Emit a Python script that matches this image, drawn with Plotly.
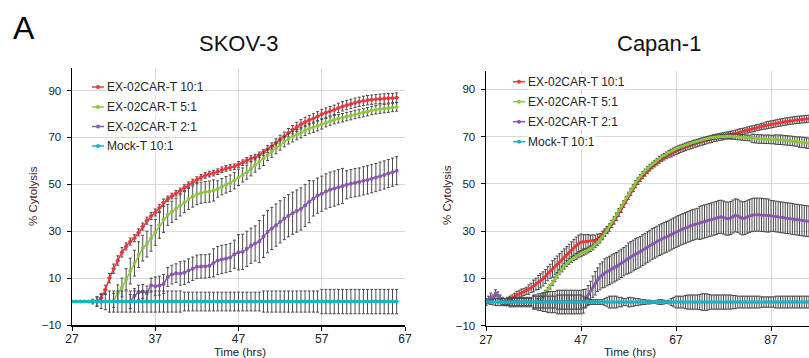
import numpy as np
import plotly.graph_objects as go

FONT = "Liberation Sans, Arial, sans-serif"
STEP = 0.5  # hours between readings

series_names = ["EX-02CAR-T 10:1", "EX-02CAR-T 5:1", "EX-02CAR-T 2:1", "Mock-T 10:1"]
series_colors = ["#e8383d", "#8cc63f", "#8a56b4", "#1ab3c9"]
y_ticks = [-10, 10, 30, 50, 70, 90]

# ---------------- SKOV-3 ----------------
skov_x_ticks = [27, 37, 47, 57, 67]

skov_red_start = 30.0
skov_red = [0, 1.5, 5, 10, 14, 17.5, 21, 23.5, 25.6, 27,
            29.5, 32, 34.5, 36.5, 38, 40, 42.2, 43.8, 45, 46.2,
            47.2, 48.6, 49.8, 51, 52, 53, 53.8, 54.4, 54.8, 55.4,
            56.2, 56.8, 57.2, 57.5, 58.5, 59.2, 60.2, 61, 61.6, 62.6,
            63.6, 65, 66.2, 67.6, 69.2, 70.5, 72, 73.3, 74.5, 75.6,
            76.6, 77.4, 78.1, 79, 80, 80.6, 81.2, 81.8, 82.6, 83.3,
            83.8, 84.3, 84.8, 85.2, 85.6, 85.9, 86.1, 86.3, 86.5, 86.6,
            86.7, 86.8, 87]
skov_red_err = [2, 2, 2, 2, 2, 2, 2, 1.5, 1.5, 1.5,
                1.5, 1.5, 1.5, 1.5, 1.5, 1.5, 1.5, 1.2, 1.2, 1.2,
                1.2, 1.2, 1.2, 1.2, 1.2, 1.2, 1.2, 1.2, 1.2, 1.2,
                1.2, 1.2, 1.2, 1.2, 1.2, 1.2, 1.2, 1.2, 1.2, 1.2,
                1.2, 1.5, 1.5, 1.8, 1.8, 1.8, 1.8, 1.8, 2, 2,
                2, 2, 2, 2, 2, 2, 2, 2, 2, 2,
                2, 2, 2, 2, 2, 2, 2, 2, 2, 2,
                2, 2, 2]

skov_green_start = 32.0
skov_green = [0.5, 3.6, 6, 9.5, 13, 16.4, 20, 22.8, 24.5, 27,
              29.5, 32.5, 35, 37, 38.3, 39.6, 41, 42.4, 43.8, 44.8,
              45.8, 46.4, 46.7, 46.9, 47.4, 48, 49, 49.8, 50.5, 51.6,
              53, 54, 55.2, 56.6, 58.2, 59.6, 61, 62.6, 64, 65.5,
              66.8, 68.2, 69.4, 70.3, 71.2, 72, 73, 73.8, 74.4, 75,
              75.6, 76.3, 77, 77.6, 78, 78.4, 78.9, 79.3, 79.8, 80.2,
              80.6, 81, 81.5, 81.8, 82.1, 82.3, 82.5, 82.8, 83]
skov_green_err = [3, 3.5, 4, 4.5, 5.5, 5.5, 5.5, 5.5, 5.5, 5.5,
                  5.5, 5.5, 5.5, 4.5, 4.5, 4.5, 4.5, 4.5, 4.5, 4.5,
                  4.5, 4.5, 4.5, 4.5, 4.5, 3.5, 3.5, 3.5, 3.5, 3.5,
                  3.5, 3, 3, 3, 3, 3, 3, 2.5, 2.5, 2.5,
                  2.2, 2.2, 2.2, 2.2, 2.2, 2.2, 2.2, 2.2, 2.2, 2.2,
                  2, 1.8, 1.8, 1.8, 1.8, 1.8, 1.8, 1.8, 1.8, 1.8,
                  1.8, 1.8, 1.8, 1.8, 1.8, 1.8, 1.8, 1.8, 1.8]

skov_purple_start = 34.0
skov_purple = [0, 2.5, 4, 4.3, 3.6, 7, 6.5, 6.8, 7.5, 10.5,
               11.5, 12.1, 12, 12.3, 13.2, 14, 14.8, 15, 15, 15.3,
               16.5, 17.5, 18, 18.3, 18.8, 20.2, 21, 21.2, 22.5, 23.8,
               24.8, 25.6, 27.8, 29.8, 31.2, 32.6, 34, 35.4, 36.6, 37.7,
               38.6, 39.5, 41, 42.6, 44, 45.2, 46, 47, 47.7, 48.2,
               48.8, 49.3, 49.8, 50.3, 50.7, 51, 51.5, 51.9, 52.4, 52.9,
               53.5, 54, 54.6, 55.2, 55.8]
skov_purple_err = [3, 3, 3, 3, 3, 3, 4, 4, 4, 4,
                   4, 4, 5, 5, 5, 5, 5, 5, 5, 5,
                   6, 6, 6, 6, 6, 6, 7.5, 7.5, 7.5, 7.5,
                   7.5, 9, 9, 9, 9, 9, 9, 9, 9, 9,
                   9, 9, 9, 9, 7.5, 7.5, 7.5, 7.5, 7.5, 7.5,
                   7.5, 7.5, 6, 6, 6, 6, 6, 6, 6, 6,
                   6, 6, 6, 6, 6]

skov_mock_start = 27.0
skov_mock = [0.0] * 79
skov_mock_err = [0, 0, 0, 0, 0, 1, 2, 3, 3.5, 4.5,
                 4.5, 4.5, 4.5, 4.5, 4.5, 4.5, 4.5, 4.5, 4.5, 4.5,
                 4.5, 4.5, 4.5, 4.5, 4.5, 4.5, 4.5, 4, 4, 4,
                 4, 4, 4, 4, 4, 4, 4, 4, 4, 4,
                 4, 4, 4, 4, 4, 4, 4.5, 4.5, 4.5, 4.5,
                 4.5, 4.5, 4.5, 4.5, 4.5, 4.5, 4.5, 4.5, 4.5, 4.5,
                 5.2, 5.2, 5.2, 5.2, 5.2, 5.2, 5.2, 5.2, 5.2, 5.2,
                 5.2, 5.2, 5.2, 5.2, 5.2, 5.2, 5.2, 5.2, 5.2]

# ---------------- Capan-1 ----------------
capan_x_ticks = [27, 47, 67, 87]

capan_red_start = 31.0
capan_red = [0, 0.5, 1, 1.5, 2.2, 3, 3.5, 4, 4.3, 4.8,
             5.3, 6, 6.8, 7.6, 8.3, 9, 9.8, 10.8, 12, 13,
             14, 15, 16, 17, 18, 19, 20, 21, 22, 23,
             24, 24.8, 25.3, 25.5, 25.5, 25.6, 25.8, 26, 26.3, 26.8,
             27.5, 28.5, 29.5, 30.5, 31.5, 33, 34.5, 36, 37.8, 39.5,
             41.2, 43, 44.7, 46.4, 48, 49.6, 51, 52.2, 53.4, 54.5,
             55.5, 56.5, 57.4, 58.2, 59, 59.8, 60.5, 61.1, 61.7, 62.3,
             62.9, 63.4, 63.9, 64.4, 64.8, 65.2, 65.6, 66, 66.3, 66.6,
             67, 67.3, 67.6, 67.9, 68.2, 68.5, 68.8, 69.1, 69.4, 69.6,
             69.8, 70, 70.2, 70.4, 70.6, 70.8, 71, 71.3, 71.6, 71.9,
             72.2, 72.5, 72.8, 73.1, 73.3, 73.5, 73.8, 74, 74.3, 74.5,
             74.8, 75, 75.2, 75.4, 75.6, 75.8, 76, 76.2, 76.4, 76.5,
             76.7, 76.8, 77, 77.1, 77.2, 77.3, 77.4, 77.5, 77.6]
capan_red_err = [1.5, 1.5, 1.5, 1.5, 1.5, 1.5, 1.5, 1.5, 1.5, 1.5,
                 2, 2, 2.5, 2.5, 3, 3, 3, 3, 3, 3,
                 3.5, 3.5, 3.5, 3.5, 3.5, 3.5, 3.5, 3.5, 3.5, 3.5,
                 3.5, 3.5, 3.5, 3, 3, 3, 2.5, 2.5, 2, 2,
                 1.5, 1.5, 1.5, 1.5, 1.5, 1.5, 1.5, 1.5, 1.5, 1.5,
                 1.2, 1.2, 1.2, 1.2, 1.2, 1.2, 1.2, 1.2, 1.2, 1.2,
                 1, 1, 1, 1, 1, 1, 1, 1, 1, 1,
                 1.5, 1.5, 1.5, 1.5, 1.5, 1.5, 1.5, 1.5, 1.5, 1.5,
                 1.5, 1.5, 1.5, 1.5, 1.5, 1.5, 1.5, 1.5, 1.5, 1.5,
                 1.5, 1.5, 1.5, 1.5, 1.5, 1.5, 1.5, 1.5, 1.5, 1.5,
                 1.3, 1.3, 1.3, 1.3, 1.3, 1.3, 1.3, 1.3, 1.3, 1.3,
                 1.5, 1.5, 1.5, 1.5, 1.5, 1.5, 1.5, 1.5, 1.5, 1.5,
                 1.5, 1.5, 1.5, 1.5, 1.5, 1.5, 1.5, 1.5, 1.5]

capan_green_start = 38.0
capan_green = [0.5, 1.5, 2.8, 4, 5.3, 6.5, 8, 9.6, 11.2, 12.8,
               14, 15.2, 16.3, 17.2, 18, 18.7, 19.3, 19.9, 20.4, 21,
               21.5, 22, 22.6, 23.3, 24.2, 25.2, 26.3, 27.6, 29, 30.5,
               32.3, 33.8, 35.4, 37, 38.8, 40.5, 42.2, 44, 45.7, 47.4,
               49, 50.6, 52, 53.2, 54.4, 55.5, 56.5, 57.5, 58.4, 59.2,
               60, 60.8, 61.5, 62.1, 62.7, 63.3, 63.9, 64.4, 64.9, 65.3,
               65.7, 66.1, 66.5, 66.9, 67.2, 67.5, 67.8, 68.1, 68.4, 68.7,
               69, 69.2, 69.4, 69.6, 69.8, 69.9, 70, 70.1, 70.2, 70.3,
               70.3, 70.2, 70.1, 70, 69.9, 69.8, 69.7, 69.6, 69.5, 69.4,
               69.3, 69.2, 69.1, 69, 69, 68.9, 68.9, 68.9, 68.8, 68.8,
               68.8, 68.7, 68.7, 68.6, 68.5, 68.4, 68.3, 68.2, 68, 67.9,
               67.7, 67.6, 67.5, 67.3, 67.2]
capan_green_err = [1, 1, 1, 1, 1, 1, 1, 1, 1, 1,
                   1.2, 1.2, 1.2, 1.2, 1.2, 1.2, 1.2, 1.2, 1.2, 1.2,
                   1.2, 1.2, 1.2, 1.2, 1.2, 1.2, 1.2, 1.2, 1.2, 1.2,
                   0.8, 0.8, 0.8, 0.8, 0.8, 0.8, 0.8, 0.8, 0.8, 0.8,
                   0.8, 0.8, 0.8, 0.8, 0.8, 0.8, 0.8, 0.8, 0.8, 0.8,
                   0.8, 0.8, 0.8, 0.8, 0.8, 0.8, 0.8, 0.8, 0.8, 0.8,
                   0.8, 0.8, 0.8, 0.8, 0.8, 0.8, 0.8, 0.8, 0.8, 0.8,
                   0.8, 0.8, 0.8, 0.8, 0.8, 0.8, 0.8, 0.8, 0.8, 0.8,
                   1.2, 1.2, 1.2, 1.2, 1.2, 1.2, 1.2, 1.2, 1.2, 1.2,
                   1.8, 1.8, 1.8, 1.8, 1.8, 1.8, 1.8, 1.8, 1.8, 1.8,
                   2, 2, 2, 2, 2, 2, 2, 2, 2, 2,
                   2.2, 2.2, 2.2, 2.2, 2.2]

capan_purple_start = 27.0
capan_purple = [0, 1, 2.3, 1.5, 3.7, 2.8, 1.5, 0.5, 0, 0,
                0, 0, 0, 0, 0, 0, 0, 0, 0, 0,
                0, 0, 0, 0, 0, 0, 0, 0, 0, 0,
                0, 0, 0, 0, 0, 0, 0, 0, 0, 0,
                0, 0.3, 1.5, 3, 4.8, 6.5, 8, 9.5, 10.7, 11.5,
                12.3, 12.9, 13.4, 14, 14.5, 15, 15.7, 16.4, 17.1, 17.8,
                18.5, 19.1, 19.7, 20.3, 20.8, 21.3, 22, 22.6, 23.3, 23.9,
                24.6, 25.1, 25.6, 26.2, 26.7, 27.2, 27.6, 28.1, 28.6, 29.1,
                29.6, 30.1, 30.6, 31, 31.4, 31.8, 32.2, 32.6, 32.9, 33.2,
                33.5, 33.8, 34.1, 34.4, 34.7, 35, 35.3, 35.6, 36, 36.1,
                35.8, 35.4, 35.3, 35.6, 36.2, 36.7, 36.5, 35.8, 35.4, 35.6,
                36.1, 36.5, 36.8, 37, 37, 37, 36.9, 36.8, 36.7, 36.6,
                36.5, 36.4, 36.2, 36.1, 35.9, 35.8, 35.6, 35.5, 35.4, 35.2,
                35, 34.9, 34.7, 34.6, 34.4, 34.3, 34.2]
capan_purple_err = [1.5, 1.5, 1.5, 1.5, 1.5, 1.5, 1.5, 1.5, 1.5, 1.5,
                    1.5, 1.5, 1.5, 1.5, 1.5, 1.5, 1.5, 1.5, 1.5, 1.5,
                    3, 3, 3.5, 3.5, 4, 4, 4.5, 4.5, 4.5, 4.5,
                    5, 5, 5, 5, 5, 5, 5, 5, 5, 5,
                    5, 5, 4, 4, 4, 4.5, 5, 5, 5.5, 5.5,
                    6, 6, 6, 6, 6, 6, 6, 6, 6, 6,
                    6.5, 6.5, 6.5, 6.5, 6.5, 6.5, 6.5, 6.5, 6.5, 6.5,
                    6.5, 6.5, 6.5, 6.5, 6.5, 6.5, 6.5, 6.5, 6.5, 6.5,
                    6.5, 6.5, 6.5, 6.5, 6.5, 6.5, 6.5, 6.5, 6.5, 6.5,
                    7, 7, 7, 7, 7, 7, 7, 7, 7, 7,
                    7, 7, 7, 7, 7, 7, 7, 7, 7, 7,
                    7, 7, 7, 7, 7, 7, 7, 7, 7, 7,
                    6.5, 6.5, 6.5, 6.5, 6.5, 6.5, 6.5, 6.5, 6.5, 6.5,
                    6.5, 6.5, 6.5, 6.5, 6.5, 6.5, 6.5]

capan_mock_start = 27.0
capan_mock = [0.0] * 137
capan_mock_err = [0.5, 0.8, 1, 1.2, 1.5, 1.5, 1.5, 1.5, 1.5, 1.5,
                  2, 2, 2, 2, 2, 2, 2, 2, 2, 2,
                  2.5, 2.5, 2.5, 2.5, 2.5, 2.5, 2.5, 2.5, 2.5, 2.5,
                  3, 3, 3, 3, 3, 3, 3, 3, 3, 3,
                  3, 2.5, 2, 1.5, 1, 1, 1, 1, 1, 1,
                  1.5, 2, 2.5, 2.5, 2.5, 2.5, 2, 2, 1.5, 1.5,
                  2, 2, 1.8, 1.5, 1.5, 1.2, 1, 1, 0.8, 0.8,
                  0.5, 0.5, 0.8, 1, 1, 0.8, 0.6, 0.8, 1.5, 2,
                  2.5, 2.5, 2.5, 2.5, 2.8, 3, 3, 3, 3, 3,
                  3.2, 3.5, 3.5, 3.5, 3.2, 3, 3, 3, 3, 3,
                  3, 3, 3, 3, 2.8, 2.8, 2.5, 2.5, 2.5, 2.5,
                  2.5, 2.5, 2.5, 2.5, 2.5, 2.5, 2.2, 2.2, 2.2, 2.2,
                  2.2, 2.2, 2.5, 2.5, 2.5, 2.5, 2.5, 2.5, 2.5, 2.5,
                  2.5, 2.5, 2.5, 2.5, 2.5, 2.5, 2.5]

W, H = 809, 358


def px(x):
    return x / W


def py(y):
    return 1 - y / H


fig = go.Figure()


def add_series(start, vals, errs, color, xa, ya, lw, ms, symbol):
    t = np.round(start + STEP * np.arange(len(vals)), 3)
    fig.add_trace(go.Scatter(
        x=t, y=vals, mode="lines+markers",
        line=dict(color=color, width=lw),
        marker=dict(color=color, size=ms, symbol=symbol, line=dict(width=0)),
        error_y=dict(type="data", array=errs, visible=True, color="#4a4a4a",
                     thickness=1, width=1.5),
        xaxis=xa, yaxis=ya, showlegend=False, hoverinfo="skip"))


skov = [(skov_red_start, skov_red, skov_red_err),
        (skov_green_start, skov_green, skov_green_err),
        (skov_purple_start, skov_purple, skov_purple_err),
        (skov_mock_start, skov_mock, skov_mock_err)]
capan = [(capan_red_start, capan_red, capan_red_err),
         (capan_green_start, capan_green, capan_green_err),
         (capan_purple_start, capan_purple, capan_purple_err),
         (capan_mock_start, capan_mock, capan_mock_err)]
symbols = ["diamond", "circle", "circle", "circle"]

for i, (s, v, e) in enumerate(skov):
    add_series(s, v, e, series_colors[i], "x", "y", 3 if i == 3 else 1.5, 4, symbols[i])
for i, (s, v, e) in enumerate(capan):
    add_series(s, v, e, series_colors[i], "x2", "y2", 3 if i == 3 else 2.5, 3, symbols[i])

axis_common = dict(showgrid=True, gridcolor="#d9d9d9", gridwidth=1, zeroline=False,
                   showline=True, linecolor="black", linewidth=1.5, automargin=False,
                   ticks="outside", ticklen=4, tickcolor="black", tickwidth=1)

fig.update_layout(
    width=W, height=H, margin=dict(l=0, r=0, t=0, b=0),
    paper_bgcolor="white", plot_bgcolor="white",
    font=dict(family=FONT, color="#222222"),
    xaxis=dict(domain=[px(72), px(405)], range=[27, 67], tickvals=skov_x_ticks,
               anchor="y", tickfont=dict(size=12, color="#222222"),
               ticklabelstandoff=-2, **axis_common),
    yaxis=dict(domain=[py(325), py(68.3)], range=[-10, 99.5], tickvals=y_ticks,
               anchor="x", tickfont=dict(size=11.5, color="#222222"),
               ticklabelstandoff=3, **axis_common),
    xaxis2=dict(domain=[px(486), 1.0], range=[27, 95], tickvals=capan_x_ticks,
                anchor="y2", tickfont=dict(size=12, color="#222222"),
                ticklabelstandoff=-2, **axis_common),
    yaxis2=dict(domain=[py(325.7), py(71)], range=[-10, 97.8], tickvals=y_ticks,
                anchor="x2", tickfont=dict(size=11.5, color="#222222"),
                ticklabelstandoff=3, **axis_common),
)

ann = []
shapes = []


def text(x, y, s, size, color="#111111", angle=0, xanchor="center", bg=None):
    d = dict(x=px(x), y=py(y), xref="paper", yref="paper", text=s, showarrow=False,
             xanchor=xanchor, yanchor="middle", textangle=angle,
             font=dict(family=FONT, size=size, color=color))
    if bg:
        d.update(bgcolor=bg, borderpad=0)
    ann.append(d)


text(24, 28, "A", 32, "#000000")
text(238, 44, "SKOV-3", 22, "#111111")
text(659, 44, "Capan-1", 22, "#111111")
text(33, 196, "% Cytolysis", 11.5, "#4a2222", angle=-90)
text(447, 195, "% Cytolysis", 11.5, "#4a2222", angle=-90)
text(240, 351.5, "Time (hrs)", 11.5, "#222222")
text(630, 351.5, "Time (hrs)", 11.5, "#222222")

# hand-drawn legends (short symbol lines like the original)
legend_sets = [(92, 104, 105.5, [87, 107, 126.5, 146]),
               (513, 525, 527, [81.7, 101.7, 121.7, 141.7])]
for (lx0, lx1, tx, ys) in legend_sets:
    for i, yy in enumerate(ys):
        c = series_colors[i]
        shapes.append(dict(type="line", xref="paper", yref="paper",
                           x0=px(lx0), x1=px(lx1), y0=py(yy), y1=py(yy),
                           line=dict(color=c, width=1.5)))
        cx = (lx0 + lx1) / 2
        shapes.append(dict(type="circle", xref="paper", yref="paper",
                           x0=px(cx - 2), x1=px(cx + 2), y0=py(yy + 2), y1=py(yy - 2),
                           fillcolor=c, line=dict(color=c, width=0)))
        text(tx, yy, series_names[i], 12, "#262626", xanchor="left", bg="white")

fig.update_layout(annotations=ann, shapes=shapes)
fig.write_html("out.html",
               config={"displayModeBar": False, "staticPlot": True},
               post_script="document.body.style.margin='0';document.body.style.overflow='hidden';")
